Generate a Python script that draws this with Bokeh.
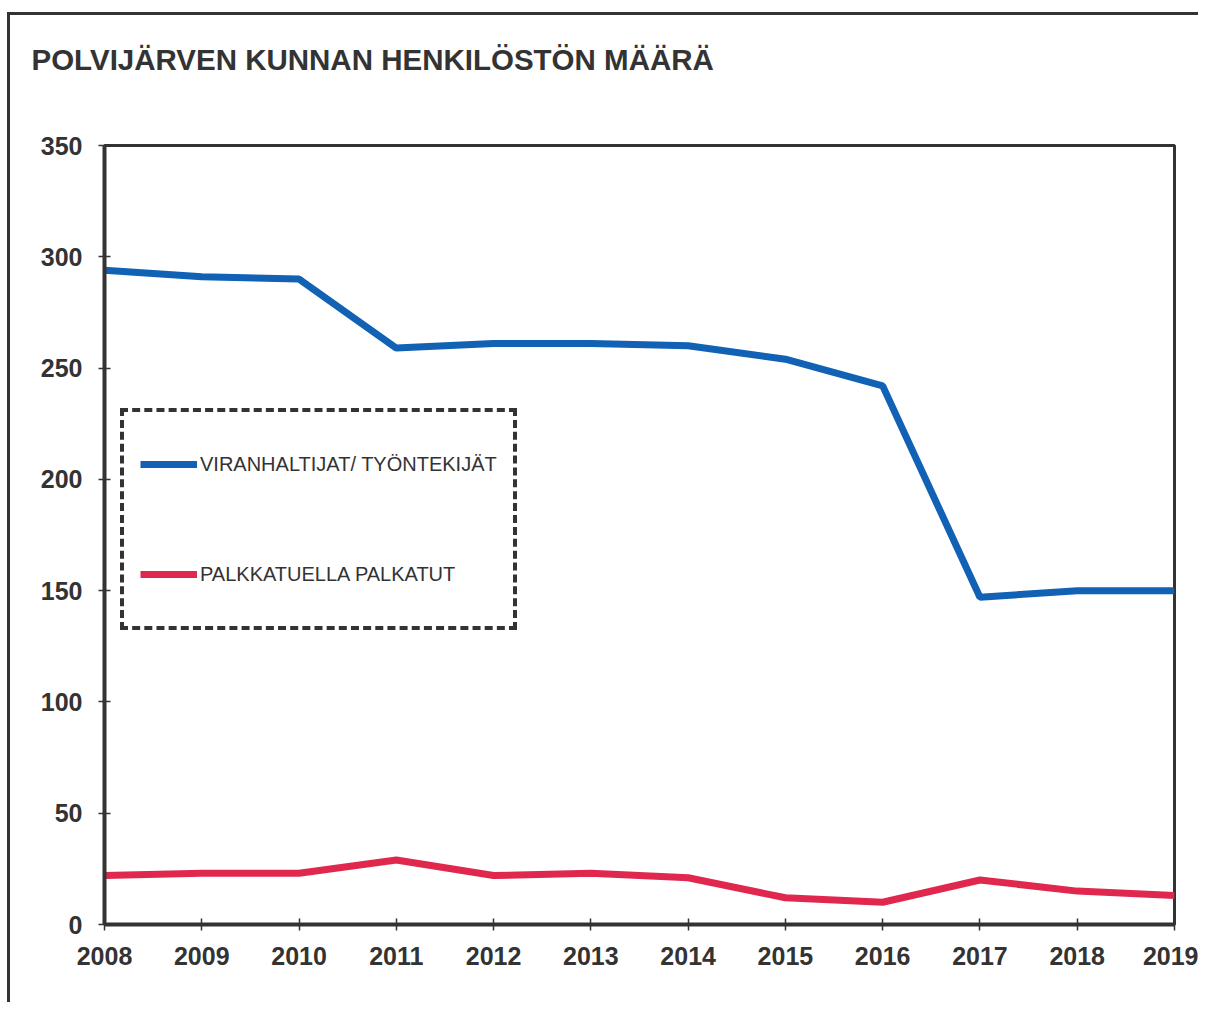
from bokeh.plotting import figure
from bokeh.models import Legend, LegendItem, Range1d, FixedTicker, Title
from bokeh.embed import file_html
from bokeh.resources import INLINE

years = [2008, 2009, 2010, 2011, 2012, 2013, 2014, 2015, 2016, 2017, 2018, 2019]
viranhaltijat = [294, 291, 290, 259, 261, 261, 260, 254, 242, 147, 150, 150]
palkkatuella = [22, 23, 23, 29, 22, 23, 21, 12, 10, 20, 15, 13]
y_ticks = [0, 50, 100, 150, 200, 250, 300, 350]
title_text = "POLVIJÄRVEN KUNNAN HENKILÖSTÖN MÄÄRÄ"
label_blue = "VIRANHALTIJAT/ TYÖNTEKIJÄT"
label_red = "PALKKATUELLA PALKATUT"

DARK = "#333333"
FONT = "Liberation Sans"

p = figure(width=1191, height=990, output_backend="svg", toolbar_location=None,
           x_range=Range1d(2008, 2019), y_range=Range1d(0, 350),
           min_border_left=94, min_border_right=27, min_border_top=130, min_border_bottom=81)
p.styles = {"border-left": "3px solid #333333", "border-top": "3px solid #333333",
            "margin-top": "12px", "margin-left": "7px"}

p.title = None
spacer = Title(text=" ", text_font_size="1px", standoff=67)
p.add_layout(spacer, "above")
main_title = Title(text=title_text, align="left", offset=-73, text_font=FONT,
                   text_font_size="29.5px", text_font_style="bold", text_color=DARK, standoff=0)
p.add_layout(main_title, "above")

p.xgrid.visible = False
p.ygrid.visible = False
p.outline_line_color = DARK
p.outline_line_width = 3
p.outline_line_alpha = 1

for ax in (p.xaxis, p.yaxis):
    ax.axis_line_color = DARK
    ax.axis_line_width = 4
    ax.major_tick_line_color = DARK
    ax.major_tick_line_width = 1.5
    ax.major_tick_in = 6
    ax.major_tick_out = 6
    ax.minor_tick_line_color = None
    ax.major_label_text_font = FONT
    ax.major_label_text_font_style = "bold"
    ax.major_label_text_font_size = "25px"
    ax.major_label_text_color = DARK

p.xaxis.ticker = FixedTicker(ticks=years)
p.yaxis.ticker = FixedTicker(ticks=y_ticks)
p.xaxis.major_label_standoff = 16
p.yaxis.major_label_standoff = 16

r1 = p.line(years, viranhaltijat, line_color="#1161b4", line_width=7)
r2 = p.line(years, palkkatuella, line_color="#e0284f", line_width=7)

legend = Legend(items=[LegendItem(label=label_blue, renderers=[r1]),
                       LegendItem(label=label_red, renderers=[r2])],
                location=(16, 294), orientation="vertical",
                glyph_width=57, glyph_height=72, label_height=72,
                label_standoff=3, spacing=38, padding=16, margin=0,
                label_text_font=FONT, label_text_font_size="20px", label_text_color=DARK,
                border_line_color=DARK, border_line_width=4, border_line_dash="2 1",
                border_line_alpha=1,
                background_fill_color="white", background_fill_alpha=1)
p.add_layout(legend, "center")

open("out.html", "w").write(file_html(p, INLINE))
